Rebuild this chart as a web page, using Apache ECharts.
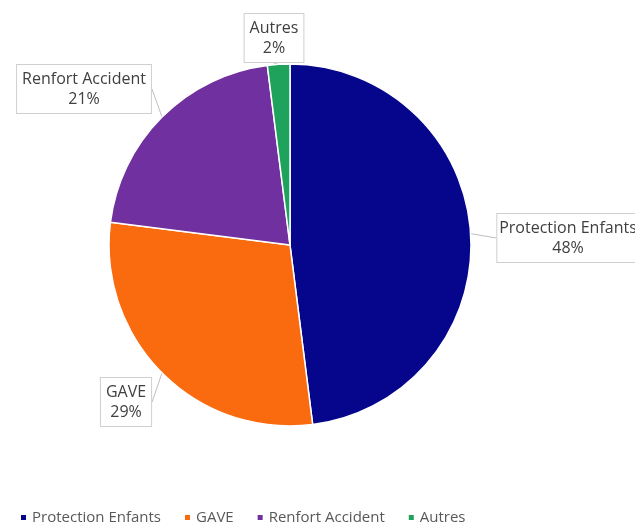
<!DOCTYPE html>
<html>
<head>
<meta charset="utf-8">
<script src="https://cdn.jsdelivr.net/npm/echarts@6/dist/echarts.min.js"></script>
<style>
html,body{margin:0;padding:0;background:#fff;}
#c{width:635px;height:524px;}
</style>
</head>
<body>
<div id="c"></div>
<script>
var categories = ['Protection Enfants', 'GAVE', 'Renfort Accident', 'Autres'];
var values = [48, 29, 21, 2];
var colors = ['#06068c', '#f96b0e', '#7030a0', '#1fa35c'];

var labelCenters = [[568, 238], [126, 402], [84, 89], [274, 38]];

var chart = echarts.init(document.getElementById('c'));
chart.setOption({
  backgroundColor: '#ffffff',
  animation: false,
  color: colors,
  legend: {
    data: categories,
    left: 14,
    top: 505,
    icon: 'rect',
    itemWidth: 7,
    itemHeight: 7,
    itemGap: 22,
    textStyle: { color: '#595959', fontSize: 15, fontFamily: 'Open Sans' }
  },
  series: [{
    type: 'pie',
    center: [290, 245],
    radius: 181,
    startAngle: 90,
    clockwise: true,
    data: categories.map(function (n, i) { return { name: n, value: values[i] }; }),
    itemStyle: { borderColor: '#ffffff', borderWidth: 1.5 },
    label: {
      show: true,
      position: 'outside',
      formatter: '{b}\n{c}%',
      color: '#404040',
      fontSize: 16,
      fontFamily: 'Open Sans',
      lineHeight: 20,
      align: 'center',
      overflow: 'none',
      backgroundColor: '#ffffff',
      borderColor: '#cfcfcf',
      borderWidth: 1,
      padding: [4, 5]
    },
    labelLine: {
      show: true,
      length: 8,
      length2: 0,
      lineStyle: { color: '#bfbfbf', width: 1 }
    },
    labelLayout: function (p) {
      var c = labelCenters[p.dataIndex];
      return { x: c[0], y: c[1], align: 'center', verticalAlign: 'middle' };
    }
  }]
});
</script>
</body>
</html>
